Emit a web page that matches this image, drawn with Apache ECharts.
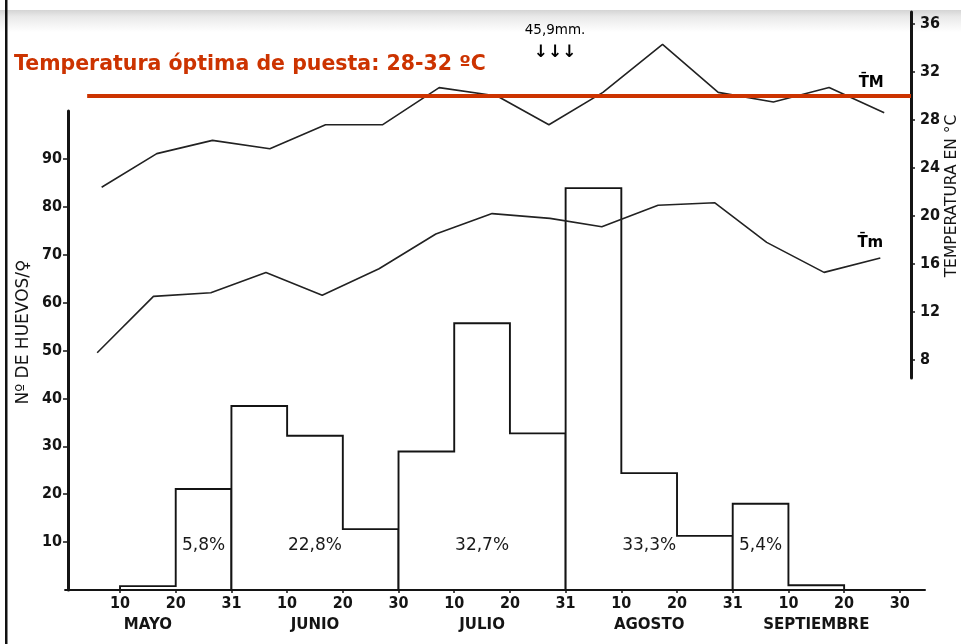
<!DOCTYPE html>
<html><head><meta charset="utf-8">
<script src="https://cdn.jsdelivr.net/npm/echarts@6/dist/echarts.min.js"></script>
<style>html,body{margin:0;padding:0;background:#fff}#c{width:961px;height:644px}</style>
</head><body><div id="c"></div>
<script>
// ---- data (dekads from 1 May to 30 Sep; index 0 = 1-10 May) ----
const dekadTickLabels = ['10','20','31','10','20','30','10','20','31','10','20','31','10','20','30'];
const months = ['MAYO','JUNIO','JULIO','AGOSTO','SEPTIEMBRE'];
const monthShare = ['5,8%','22,8%','32,7%','33,3%','5,4%'];
const eggsPerDekad = [0, 0.8, 21.1, 38.4, 32.2, 12.7, 28.9, 55.7, 32.7, 83.9, 24.4, 11.3, 18.0, 1.0, 0];
const tmaxPos = [0.67,1.66,2.66,3.69,4.69,5.71,6.73,7.77,8.70,9.67,10.74,11.74,12.73,13.73,14.72];
const tmaxVal = [22.4,25.2,26.3,25.6,27.6,27.6,30.7,30.0,27.6,30.3,34.3,30.3,29.5,30.7,28.6];
const tminPos = [0.59,1.60,2.63,3.62,4.63,5.65,6.67,7.68,8.72,9.65,10.66,11.68,12.61,13.64,14.65];
const tminVal = [8.6,13.3,13.6,15.3,13.4,15.6,18.5,20.2,19.8,19.1,20.9,21.1,17.8,15.3,16.5];
const eggTicks = [10,20,30,40,50,60,70,80,90];
const tempTicks = [8,12,16,20,24,28,32,36];
const optimumTemp = 30;
const rainText = '45,9mm.';
const rainDekad = 8.81;
const titleText = 'Temperatura óptima de puesta: 28-32 ºC';

// ---- layout ----
const X_MIN = 0.066, X_MAX = 15.452, X_MAX_T = 15.201;
const OPT_START = 0.41;
const RED = '#cc3300';
const INK = '#141414';
const tickFont = {fontFamily:"'DejaVu Sans Condensed','DejaVu Sans'", fontWeight:'bold', fontSize:16, color:INK};

const chart = echarts.init(document.getElementById('c'), null, {renderer:'canvas'});
const dekadIdx = dekadTickLabels.map((_, i) => i + 1);
const monthCenters = months.map((_, i) => 3 * i + 1.5);

function labelDekad(i) {
  const v = eggsPerDekad.slice(3 * i, 3 * i + 3);
  if (v[1] > 9) return 3 * i + 1.5;
  const k = v.indexOf(Math.max(...v));
  return 3 * i + k + 0.5;
}

chart.setOption({
  animation: false,
  backgroundColor: '#fff',
  grid: [
    {left: 68, right: 36, top: 111, bottom: 54, outerBoundsMode: 'none'},
    {left: 68, right: 50, top: 12, bottom: 266, outerBoundsMode: 'none'}
  ],
  xAxis: [
    {gridIndex: 0, type: 'value', min: X_MIN, max: X_MAX,
     axisLine: {show: true, onZero: false, lineStyle: {color: INK, width: 2}},
     axisTick: {show: true, customValues: dekadIdx, length: 3, lineStyle: {color: INK, width: 1.5}},
     axisLabel: {customValues: dekadIdx, margin: 6, formatter: v => dekadTickLabels[Math.round(v) - 1], ...tickFont},
     splitLine: {show: false}},
    {gridIndex: 0, type: 'value', min: X_MIN, max: X_MAX, position: 'bottom', offset: 22,
     axisLine: {show: false}, axisTick: {show: false},
     axisLabel: {customValues: monthCenters, margin: 6, formatter: v => months[Math.round((v - 1.5) / 3)],
                 fontFamily: 'DejaVu Sans', fontWeight: 'bold', fontSize: 15, color: INK},
     splitLine: {show: false}},
    {gridIndex: 1, type: 'value', min: X_MIN, max: X_MAX_T, show: false}
  ],
  yAxis: [
    {gridIndex: 0, type: 'value', min: 0, max: 100, position: 'left',
     axisLine: {show: true, onZero: false, lineStyle: {color: INK, width: 3}},
     axisTick: {show: true, customValues: eggTicks, length: 5, lineStyle: {color: INK, width: 1.5}},
     axisLabel: {customValues: eggTicks, margin: 6, ...tickFont},
     splitLine: {show: false}},
    {gridIndex: 1, type: 'value', min: 6.5, max: 37, position: 'right',
     axisLine: {show: true, onZero: false, lineStyle: {color: INK, width: 3}},
     axisTick: {show: true, customValues: tempTicks, length: 4, lineStyle: {color: INK, width: 1.5}},
     axisLabel: {customValues: tempTicks, margin: 9, ...tickFont},
     splitLine: {show: false}}
  ],
  graphic: [
    {type: 'rect', z: -10, shape: {x: 0, y: 10, width: 961, height: 22},
     style: {fill: new echarts.graphic.LinearGradient(0, 0, 0, 1, [
       {offset: 0, color: '#d4d4d4'}, {offset: 0.3, color: '#e9e9e9'}, {offset: 1, color: '#ffffff'}])}},
    {type: 'rect', z: 10, shape: {x: 5, y: 0, width: 2.5, height: 644}, style: {fill: '#111'}},
    {type: 'text', z: 10, x: 14, y: 65,
     style: {text: titleText, fill: RED, font: 'bold 20.5px "DejaVu Sans"',
             align: 'left', verticalAlign: 'middle', textAlign: 'left', textVerticalAlign: 'middle'}},
    {type: 'text', z: 10, x: 24, y: 332, rotation: Math.PI / 2,
     style: {text: 'Nº DE HUEVOS/♀', fill: INK, font: '17px "DejaVu Sans"',
             align: 'center', verticalAlign: 'middle', textAlign: 'center', textVerticalAlign: 'middle'}},
    {type: 'text', z: 10, x: 952, y: 196, rotation: Math.PI / 2,
     style: {text: 'TEMPERATURA EN °C', fill: INK, font: '15.5px "DejaVu Sans"',
             align: 'center', verticalAlign: 'middle', textAlign: 'center', textVerticalAlign: 'middle'}}
  ],
  series: [
    {type: 'custom', name: 'Huevos', xAxisIndex: 0, yAxisIndex: 0, clip: false, z: 2,
     data: months.map((m, i) => [3 * i, eggsPerDekad[3 * i], eggsPerDekad[3 * i + 1], eggsPerDekad[3 * i + 2]]),
     encode: {x: 0, y: [1, 2, 3]},
     renderItem: (params, api) => {
       const s = api.value(0);
       const v = [api.value(1), api.value(2), api.value(3)];
       const pts = [api.coord([s, 0])];
       for (let k = 0; k < 3; k++) { pts.push(api.coord([s + k, v[k]])); pts.push(api.coord([s + k + 1, v[k]])); }
       pts.push(api.coord([s + 3, 0]));
       const c = api.coord([labelDekad(params.dataIndex), 9]);
       return {type: 'group', children: [
         {type: 'polygon', shape: {points: pts}, style: {fill: '#fff', stroke: INK, lineWidth: 1.9, lineJoin: 'miter'}},
         {type: 'text', x: c[0], y: c[1] - 1, style: {text: monthShare[params.dataIndex], fill: '#1a1a1a',
           font: '17px "DejaVu Sans"', align: 'center', verticalAlign: 'middle', textAlign: 'center', textVerticalAlign: 'middle'}}
       ]};
     }},
    {type: 'line', name: 'TM', xAxisIndex: 2, yAxisIndex: 1, z: 3, symbol: 'none',
     data: tmaxPos.map((x, i) => [x, tmaxVal[i]]), lineStyle: {color: '#222', width: 1.6}},
    {type: 'line', name: 'Tm', xAxisIndex: 2, yAxisIndex: 1, z: 3, symbol: 'none',
     data: tminPos.map((x, i) => [x, tminVal[i]]), lineStyle: {color: '#222', width: 1.6}},
    {type: 'line', name: 'Óptimo', xAxisIndex: 2, yAxisIndex: 1, z: 5, symbol: 'none',
     data: [[OPT_START, optimumTemp], [X_MAX_T, optimumTemp]], lineStyle: {color: RED, width: 4}},
    {type: 'scatter', xAxisIndex: 2, yAxisIndex: 1, z: 6, symbolSize: 0, silent: true,
     itemStyle: {color: 'rgba(0,0,0,0)', opacity: 1},
     label: {show: true, position: 'inside', color: '#000', opacity: 1, textBorderWidth: 0,
             fontFamily: 'DejaVu Sans', fontWeight: 'bold', fontSize: 15},
     data: [
       {value: [tmaxPos[tmaxPos.length - 1], tmaxVal[tmaxVal.length - 1]], label: {formatter: 'T\u0304M', offset: [-13, -30]}},
       {value: [tminPos[tminPos.length - 1], tminVal[tminVal.length - 1]], label: {formatter: 'T\u0304m', offset: [-10, -15]}},
       {value: [rainDekad, 34.54], label: {formatter: '{a|' + rainText + '}\n{b|↓↓↓}',
         rich: {a: {fontFamily: 'DejaVu Sans', fontWeight: 'normal', fontSize: 13.5, lineHeight: 23, color: '#000'},
                b: {fontFamily: 'DejaVu Sans', fontSize: 17, fontWeight: 'bold', lineHeight: 23, color: '#000'}}}}
     ]}
  ]
});
</script></body></html>
